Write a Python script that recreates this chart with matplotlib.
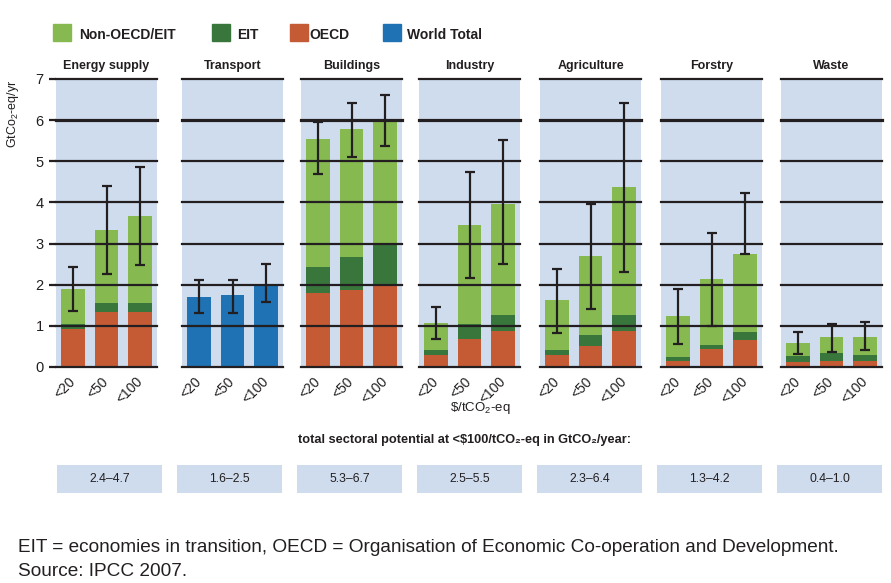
import matplotlib
matplotlib.use('Agg')
import matplotlib.pyplot as plt
from matplotlib.patches import Rectangle

plt.rcParams['font.family'] = ['Liberation Sans', 'DejaVu Sans']
plt.rcParams['mathtext.fontset'] = 'custom'
plt.rcParams['mathtext.rm'] = 'Liberation Sans'
plt.rcParams['mathtext.it'] = 'Liberation Sans'
plt.rcParams['mathtext.bf'] = 'Liberation Sans:bold'

# data
sectors = ['Energy supply', 'Transport', 'Buildings', 'Industry', 'Agriculture', 'Forstry', 'Waste']
price_labels = ['<20', '<50', '<100']
oecd = [[0.92, 1.34, 1.34], [0, 0, 0], [1.80, 1.87, 1.98], [0.29, 0.68, 0.88],
        [0.29, 0.51, 0.88], [0.15, 0.44, 0.66], [0.12, 0.15, 0.15]]
eit = [[0.13, 0.22, 0.22], [0, 0, 0], [0.63, 0.81, 0.99], [0.12, 0.37, 0.38],
       [0.12, 0.27, 0.38], [0.09, 0.09, 0.19], [0.15, 0.19, 0.14]]
non_oecd = [[0.85, 1.77, 2.11], [0, 0, 0], [3.12, 3.11, 3.00], [0.66, 2.40, 2.71],
            [1.22, 1.92, 3.11], [1.00, 1.61, 1.90], [0.31, 0.39, 0.44]]
world_total = [[0, 0, 0], [1.70, 1.75, 1.98], [0, 0, 0], [0, 0, 0],
               [0, 0, 0], [0, 0, 0], [0, 0, 0]]
err_low = [[1.36, 2.26, 2.48], [1.31, 1.31, 1.58], [4.70, 5.11, 5.36], [0.68, 2.16, 2.50],
           [0.83, 1.41, 2.31], [0.56, 1.00, 2.75], [0.32, 0.36, 0.41]]
err_high = [[2.43, 4.40, 4.87], [2.12, 2.12, 2.50], [5.96, 6.42, 6.62], [1.46, 4.74, 5.52],
            [2.38, 3.96, 6.42], [1.90, 3.26, 4.23], [0.85, 1.05, 1.10]]
ranges = ['2.4–4.7', '1.6–2.5', '5.3–6.7', '2.5–5.5', '2.3–6.4', '1.3–4.2', '0.4–1.0']

c_non = '#86ba50'
c_eit = '#38763c'
c_oecd = '#c55b35'
c_world = '#1f72b4'
c_bg = '#cfdcee'
c_line = '#231f20'

W, H = 891, 583
fig = plt.figure(figsize=(W / 100, H / 100), dpi=100)

panel_left = [56, 182, 301, 419, 540, 661, 781]
panel_w = 101
y0, y1 = 367, 79
x = [0, 1, 2]

for i, name in enumerate(sectors):
    ax = fig.add_axes([panel_left[i] / W, (H - y0) / H, panel_w / W, (y0 - y1) / H])
    ax.set_facecolor(c_bg)
    for s in ax.spines.values():
        s.set_visible(False)
    bw = 0.7
    ax.bar(x, oecd[i], bw, color=c_oecd, zorder=2)
    ax.bar(x, eit[i], bw, bottom=oecd[i], color=c_eit, zorder=2)
    b3 = [a + b for a, b in zip(oecd[i], eit[i])]
    ax.bar(x, non_oecd[i], bw, bottom=b3, color=c_non, zorder=2)
    ax.bar(x, world_total[i], bw, color=c_world, zorder=2)
    # gridlines on top of bars
    for yv in range(0, 8):
        lw = 2.3 if yv == 6 else 1.6
        ax.axhline(yv, color=c_line, lw=lw, zorder=3, clip_on=False)
    mid = [(a + b) / 2 for a, b in zip(err_low[i], err_high[i])]
    half = [(b - a) / 2 for a, b in zip(err_low[i], err_high[i])]
    ax.errorbar(x, mid, yerr=half, fmt='none', ecolor=c_line, elinewidth=1.6,
                capsize=3.6, capthick=1.6, zorder=4)
    ax.set_xlim(-0.5, 2.5)
    ax.set_ylim(0, 7)
    ax.set_xticks(x)
    ax.set_xticklabels(price_labels, rotation=45, ha='right', va='center',
                       rotation_mode='anchor', fontsize=10, color=c_line)
    ax.tick_params(axis='x', length=0, pad=9)
    ax.set_title(name, fontsize=9, fontweight='bold', color=c_line, pad=7)
    if i == 0:
        ax.set_yticks(range(0, 8))
        ax.tick_params(axis='y', length=5, width=1.6, color=c_line, labelsize=10.5,
                       labelcolor=c_line, pad=4)
        ax.set_ylabel('GtCo$_2$-eq/yr', fontsize=9, color=c_line)
        ax.yaxis.set_label_coords(-0.35, 0.88)
    else:
        ax.set_yticks([])

# legend
leg_labels = ['Non-OECD/EIT', 'EIT', 'OECD', 'World Total']
leg_colors = [c_non, c_eit, c_oecd, c_world]
leg_x = [53, 212, 290, 383]
leg_tx = [79, 237, 309, 407]
for lab, col, lx, tx in zip(leg_labels, leg_colors, leg_x, leg_tx):
    fig.patches.append(Rectangle((lx / W, (H - 41) / H), 18 / W, 17 / H,
                                 transform=fig.transFigure, color=col))
    fig.text(tx / W, (H - 35) / H, lab, fontsize=10, fontweight='bold',
             color=c_line, va='center')

fig.text(480 / W, (H - 408) / H, r'\$/tCO$_2$-eq', fontsize=9.5, color=c_line,
         ha='center', va='center')

fig.text(465 / W, (H - 440) / H,
         'total sectoral potential at <$100/tCO₂-eq in GtCO₂/year:',
         fontsize=9.2, fontweight='bold', color=c_line, ha='center', va='center')

for i, r in enumerate(ranges):
    bx = fig.add_axes([(57 + 120 * i) / W, (H - 493) / H, 105 / W, 28 / H])
    bx.set_facecolor(c_bg)
    bx.set_xticks([])
    bx.set_yticks([])
    for s in bx.spines.values():
        s.set_visible(False)
    bx.text(0.5, 0.5, r, ha='center', va='center', fontsize=8.8, color=c_line,
            transform=bx.transAxes)

fig.text(18 / W, (H - 548) / H,
         'EIT = economies in transition, OECD = Organisation of Economic Co-operation and Development.',
         fontsize=13.7, color=c_line, va='center')
fig.text(18 / W, (H - 572) / H, 'Source: IPCC 2007.', fontsize=13.7, color=c_line, va='center')

fig.savefig('out.png', dpi=100)
